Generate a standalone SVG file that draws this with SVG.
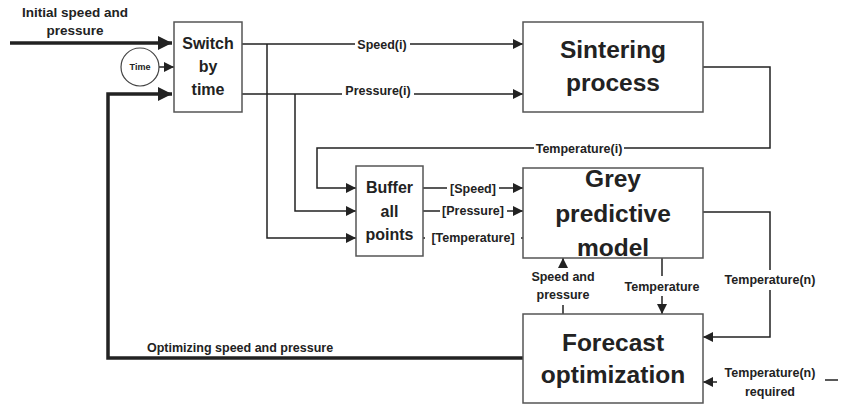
<svg xmlns="http://www.w3.org/2000/svg" width="851" height="408" viewBox="0 0 851 408">
<defs>
<marker id="ah" viewBox="0 0 10 10" refX="10" refY="5" markerWidth="10" markerHeight="10" markerUnits="userSpaceOnUse" orient="auto"><path d="M0,0 L10,5 L0,10 z" fill="#222"/></marker>
<marker id="ahb" viewBox="0 0 10 10" refX="10" refY="5" markerWidth="14" markerHeight="14" markerUnits="userSpaceOnUse" orient="auto"><path d="M0,0 L10,5 L0,10 z" fill="#222"/></marker>
<style>
.box{fill:#fff;stroke:#555;stroke-width:1.5}
.ln{fill:none;stroke:#222;stroke-width:1.5}
.th{fill:none;stroke:#222;stroke-width:3.5}
text{font-family:"Liberation Sans",Arial,sans-serif;font-weight:bold;fill:#222}
.big{font-size:24.5px;text-anchor:middle}
.mid{font-size:16px;text-anchor:middle}
.sm{font-size:12.5px;text-anchor:middle}
</style>
</defs>
<rect width="851" height="408" fill="#fff"/>
<g id="connectors">
<path class="th" d="M10,43 H172" marker-end="url(#ahb)"/>
<path class="ln" d="M159,67 H174" marker-end="url(#ah)"/>
<path class="th" d="M523,358 H108 V94 H172" marker-end="url(#ahb)"/>
<path class="ln" d="M242,44 H355 M410,44 H523" marker-end="url(#ah)"/>
<path class="ln" d="M242,94 H342 M414,94 H523" marker-end="url(#ah)"/>
<path class="ln" d="M267,44 V238 H356" marker-end="url(#ah)"/>
<path class="ln" d="M295,94 V211 H356" marker-end="url(#ah)"/>
<path class="ln" d="M703,67 H770 V148 H624"/>
<path class="ln" d="M534,148 H317 V188 H356" marker-end="url(#ah)"/>
<path class="ln" d="M423,188 H447 M499,188 H523" marker-end="url(#ah)"/>
<path class="ln" d="M423,211 H440 M507,211 H523" marker-end="url(#ah)"/>
<path class="ln" d="M423,238 H425 M521,238 H523"/>
<path class="ln" d="M703,212 H770 V270"/>
<path class="ln" d="M770,290 V337 H703" marker-end="url(#ah)"/>
<path class="ln" d="M662,258 V276"/>
<path class="ln" d="M662,296 V314" marker-end="url(#ah)"/>
<path class="ln" d="M563,314 V305"/>
<path class="ln" d="M563,268 V258" marker-end="url(#ah)"/>
<path class="ln" d="M717,382 H703" marker-end="url(#ah)"/>
<path class="ln" d="M825,380 H838"/>
</g>
<g id="labels">
<text class="sm" style="font-size:13.5px" x="75" y="17">Initial speed and</text>
<text class="sm" style="font-size:13.5px" x="75" y="35">pressure</text>
<text class="sm" x="382" y="49">Speed(i)</text>
<text class="sm" x="378" y="95">Pressure(i)</text>
<text class="sm" x="579" y="153">Temperature(i)</text>
<text class="sm" x="473" y="193">[Speed]</text>
<text class="sm" x="473" y="215">[Pressure]</text>
<text class="sm" x="473" y="242">[Temperature]</text>
<text class="sm" x="770" y="284">Temperature(n)</text>
<text class="sm" x="662" y="291">Temperature</text>
<text class="sm" x="563" y="281">Speed and</text>
<text class="sm" x="563" y="299">pressure</text>
<text class="sm" x="770" y="377">Temperature(n)</text>
<text class="sm" x="770" y="396">required</text>
<text style="font-size:12.5px" x="147" y="352">Optimizing speed and pressure</text>
</g>
<g id="time">
<circle cx="140" cy="67" r="19" fill="#fff" stroke="#444" stroke-width="1.2"/>
<text x="140" y="70" style="font-size:9px;text-anchor:middle">Time</text>
</g>
<g id="switch">
<rect class="box" x="174" y="22" width="68" height="90"/>
<text class="mid" x="208" y="49">Switch</text>
<text class="mid" x="208" y="72">by</text>
<text class="mid" x="208" y="95">time</text>
</g>
<g id="sintering">
<rect class="box" x="523" y="22" width="180" height="90"/>
<text class="big" x="613" y="58">Sintering</text>
<text class="big" x="613" y="91">process</text>
</g>
<g id="buffer">
<rect class="box" x="356" y="166" width="67" height="90"/>
<text class="mid" x="389.5" y="193">Buffer</text>
<text class="mid" x="389.5" y="217">all</text>
<text class="mid" x="389.5" y="240">points</text>
</g>
<g id="grey">
<rect class="box" x="523" y="168" width="180" height="90"/>
<text class="big" x="613" y="187">Grey</text>
<text class="big" x="613" y="222">predictive</text>
<text class="big" x="613" y="256">model</text>
</g>
<g id="forecast">
<rect class="box" x="523" y="314" width="180" height="89"/>
<text class="big" x="613" y="351">Forecast</text>
<text class="big" x="613" y="383">optimization</text>
</g>
</svg>
